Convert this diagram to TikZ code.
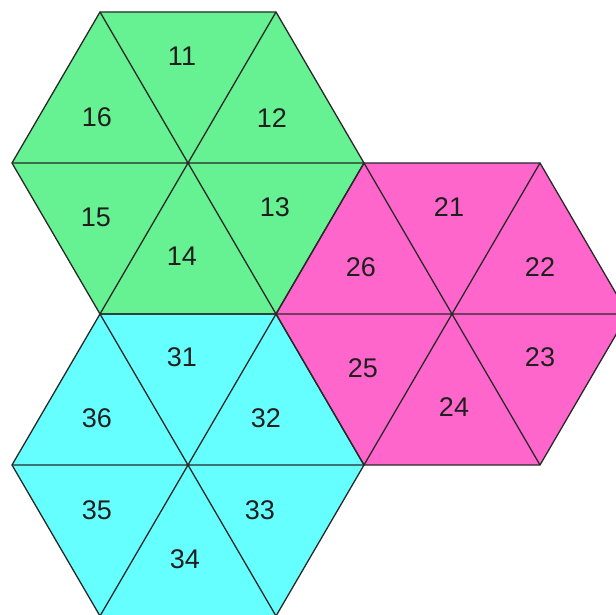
\documentclass[tikz,border=0pt]{standalone}
\usepackage{fontspec}
\setmainfont{Liberation Sans}
\definecolor{hexgreen}{RGB}{102,242,146}
\definecolor{hexpink}{RGB}{255,102,204}
\definecolor{hexcyan}{RGB}{102,255,255}
\definecolor{edge}{RGB}{40,40,40}
\begin{document}
\begin{tikzpicture}[x=1pt,y=-1pt,
  edgeline/.style={draw=edge,line width=1.3pt,line join=miter},
  lbl/.style={font=\fontsize{27}{27}\selectfont,text=black!88,inner sep=0pt}]
\useasboundingbox (0,0) rectangle (616,615);
\clip (0,0) rectangle (616,615);
% green hexagon
\coordinate (G) at (188,163);
\coordinate (G1) at (12,163); \coordinate (G2) at (100,12); \coordinate (G3) at (276,12);
\coordinate (G4) at (364,163); \coordinate (G5) at (276,314); \coordinate (G6) at (100,314);
% pink hexagon
\coordinate (M) at (452,314);
\coordinate (M1) at (276,314); \coordinate (M2) at (364,163); \coordinate (M3) at (540,163);
\coordinate (M4) at (628,314); \coordinate (M5) at (540,465); \coordinate (M6) at (364,465);
% cyan hexagon
\coordinate (C) at (188,465);
\coordinate (C1) at (12,465); \coordinate (C2) at (100,314); \coordinate (C3) at (276,314);
\coordinate (C4) at (364,465); \coordinate (C5) at (276,616); \coordinate (C6) at (100,616);
\fill[hexgreen] (G1)--(G2)--(G3)--(G4)--(G5)--(G6)--cycle;
\fill[hexpink] (M1)--(M2)--(M3)--(M4)--(M5)--(M6)--cycle;
\fill[hexcyan] (C1)--(C2)--(C3)--(C4)--(C5)--(C6)--cycle;
\foreach \h in {G,M,C}{
  \draw[edgeline] (\h1)--(\h2)--(\h3)--(\h4)--(\h5)--(\h6)--cycle;
  \draw[edgeline] (\h1)--(\h4) (\h2)--(\h5) (\h3)--(\h6);
}
\node[lbl] (n11) at (182,56) {11};
\node[lbl] (n12) at (272,118) {12};
\node[lbl] (n13) at (275,207) {13};
\node[lbl] (n14) at (182,256) {14};
\node[lbl] (n15) at (96,217) {15};
\node[lbl] (n16) at (97,117) {16};
\node[lbl] (n21) at (449,207) {21};
\node[lbl] (n22) at (540,267) {22};
\node[lbl] (n23) at (540,357) {23};
\node[lbl] (n24) at (454,407) {24};
\node[lbl] (n25) at (363,368) {25};
\node[lbl] (n26) at (361,267) {26};
\node[lbl] (n31) at (182,357) {31};
\node[lbl] (n32) at (266,418) {32};
\node[lbl] (n33) at (260,510) {33};
\node[lbl] (n34) at (185,559) {34};
\node[lbl] (n35) at (97,510) {35};
\node[lbl] (n36) at (97,418) {36};
\end{tikzpicture}
\end{document}
